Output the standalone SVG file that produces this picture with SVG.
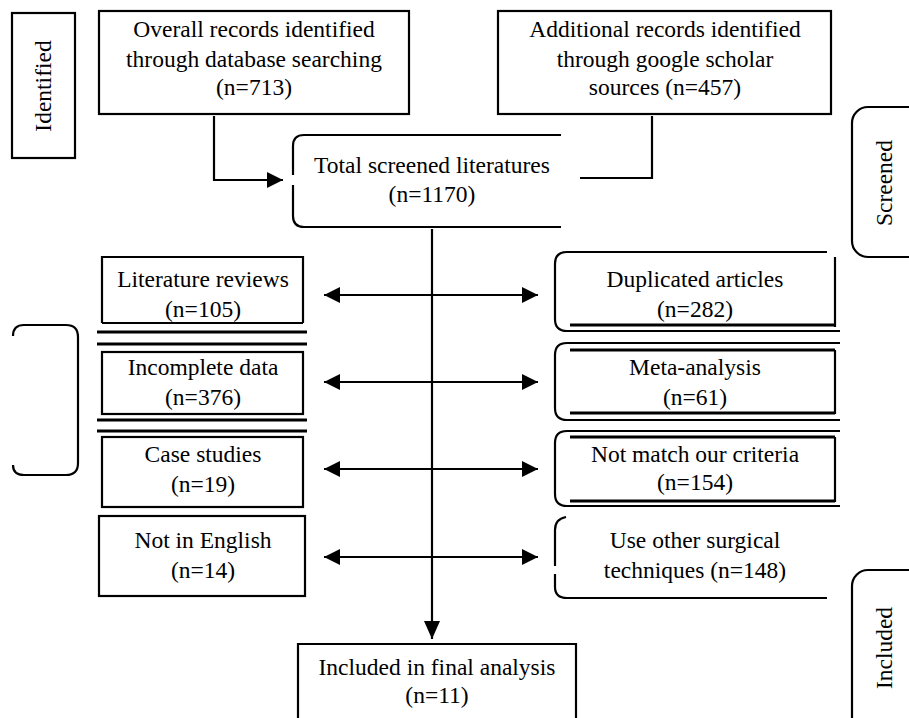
<svg xmlns="http://www.w3.org/2000/svg" width="909" height="718" viewBox="0 0 909 718">
<style>
  .ln { fill: none; stroke: #000; stroke-width: 2.2; }
  .thk { fill: none; stroke: #000; stroke-width: 2.8; }
  .t { font-family: "Liberation Serif", "Times New Roman", serif; font-size: 23.5px; fill: #000; text-anchor: middle; }
</style>
<defs>
  <marker id="ah" markerUnits="userSpaceOnUse" markerWidth="16" markerHeight="16" refX="16" refY="8" orient="auto-start-reverse">
    <path d="M0,0 L16,8 L0,16 Z" fill="#000"/>
  </marker>
  <marker id="ahv" markerUnits="userSpaceOnUse" markerWidth="18" markerHeight="16" refX="18" refY="8" orient="auto">
    <path d="M0,0 L18,8 L0,16 Z" fill="#000"/>
  </marker>
</defs>
<rect width="909" height="718" fill="#fff"/>

<g id="stage-identified">
  <rect class="ln" x="12" y="13" width="63" height="145"/>
  <text class="t" transform="translate(51,86) rotate(-90)">Identified</text>
</g>

<g id="stage-screened">
  <rect class="ln" x="852" y="107" width="80" height="150" rx="16"/>
  <text class="t" transform="translate(892,183) rotate(-90)">Screened</text>
</g>

<g id="stage-included">
  <rect class="ln" x="852" y="570" width="80" height="170" rx="16"/>
  <text class="t" transform="translate(892,648) rotate(-90)">Included</text>
</g>

<g id="excluded-bracket">
  <path class="ln" d="M13,336 Q13,325 24,325 L66,325 Q78,325 78,337 L78,463 Q78,475 66,475 L24,475 Q13,475 13,465"/>
</g>

<g id="node-database">
  <rect class="ln" x="99" y="11" width="310" height="103"/>
  <text class="t" x="254" y="37">Overall records identified</text>
  <text class="t" x="254" y="67">through database searching</text>
  <text class="t" x="254" y="95">(n=713)</text>
</g>

<g id="node-scholar">
  <rect class="ln" x="498" y="11" width="333" height="103"/>
  <text class="t" x="665" y="37">Additional records identified</text>
  <text class="t" x="665" y="67">through google scholar</text>
  <text class="t" x="665" y="95">sources (n=457)</text>
</g>

<g id="node-total">
  <path class="ln" d="M561,135 L304,135 Q293,135 293,146 L293,175 M293,185 L293,216 Q293,227 304,227 L561,227"/>
  <text class="t" x="432" y="173">Total screened literatures</text>
  <text class="t" x="432" y="202">(n=1170)</text>
</g>

<g id="node-literature-reviews">
  <path class="ln" d="M102,323 L102,257 L303,257 L303,323 M102,323 L303,323"/>
  <path class="thk" d="M97,332 L307,332"/>
  <text class="t" x="203" y="287">Literature reviews</text>
  <text class="t" x="203" y="317">(n=105)</text>
</g>

<g id="node-incomplete">
  <path class="thk" d="M97,344 L307,344"/>
  <rect class="ln" x="102" y="352" width="201" height="62"/>
  <path class="thk" d="M97,420 L307,420"/>
  <text class="t" x="203" y="375">Incomplete data</text>
  <text class="t" x="203" y="405">(n=376)</text>
</g>

<g id="node-case-studies">
  <path class="thk" d="M97,431 L307,431"/>
  <rect class="ln" x="102" y="437" width="201" height="70"/>
  <text class="t" x="203" y="462">Case studies</text>
  <text class="t" x="203" y="492">(n=19)</text>
</g>

<g id="node-not-english">
  <rect class="ln" x="99" y="516" width="206" height="80"/>
  <text class="t" x="203" y="548">Not in English</text>
  <text class="t" x="203" y="578">(n=14)</text>
</g>

<g id="node-duplicated">
  <path class="ln" d="M827,252 L567,252 Q555,252 555,264 L555,319 Q555,331 567,331 L840,331"/>
  <path class="ln" d="M835,257 L835,327"/>
  <path class="thk" d="M570,325 L835,325"/>
  <text class="t" x="695" y="287">Duplicated articles</text>
  <text class="t" x="695" y="317">(n=282)</text>
</g>

<g id="node-meta">
  <path class="ln" d="M840,343 L567,343 Q555,343 555,355 L555,408 Q555,420 567,420 L840,420"/>
  <path class="thk" d="M570,350 L835,350 M570,413 L835,413"/>
  <path class="ln" d="M835,350 L835,414"/>
  <text class="t" x="695" y="375">Meta-analysis</text>
  <text class="t" x="695" y="405">(n=61)</text>
</g>

<g id="node-criteria">
  <path class="ln" d="M840,431 L567,431 Q555,431 555,443 L555,494 Q555,506 567,506 L840,506"/>
  <path class="thk" d="M570,437 L835,437 M570,501 L835,501"/>
  <path class="ln" d="M835,437 L835,502"/>
  <text class="t" x="695" y="462">Not match our criteria</text>
  <text class="t" x="695" y="490">(n=154)</text>
</g>

<g id="node-other-techniques">
  <path class="ln" d="M566,517 Q555,519 555,530 L555,566 M555,574 L555,587 Q555,598 567,598 L827,598"/>
  <text class="t" x="695" y="548">Use other surgical</text>
  <text class="t" x="695" y="578">techniques (n=148)</text>
</g>

<g id="node-included">
  <path class="ln" d="M298,720 L298,644 L576,644 L576,720"/>
  <text class="t" x="437" y="675">Included in final analysis</text>
  <text class="t" x="437" y="703">(n=11)</text>
</g>

<g id="connectors">
  <path class="ln" d="M214,116 L214,180 L283,180" marker-end="url(#ah)"/>
  <path class="ln" d="M652,116 L652,178 L580,178"/>
  <path class="ln" d="M432,229 L432,639" marker-end="url(#ahv)"/>
  <path class="ln" d="M324,295 L538,295" marker-start="url(#ah)" marker-end="url(#ah)"/>
  <path class="ln" d="M324,382 L538,382" marker-start="url(#ah)" marker-end="url(#ah)"/>
  <path class="ln" d="M324,469 L538,469" marker-start="url(#ah)" marker-end="url(#ah)"/>
  <path class="ln" d="M324,557 L538,557" marker-start="url(#ah)" marker-end="url(#ah)"/>
</g>
</svg>
